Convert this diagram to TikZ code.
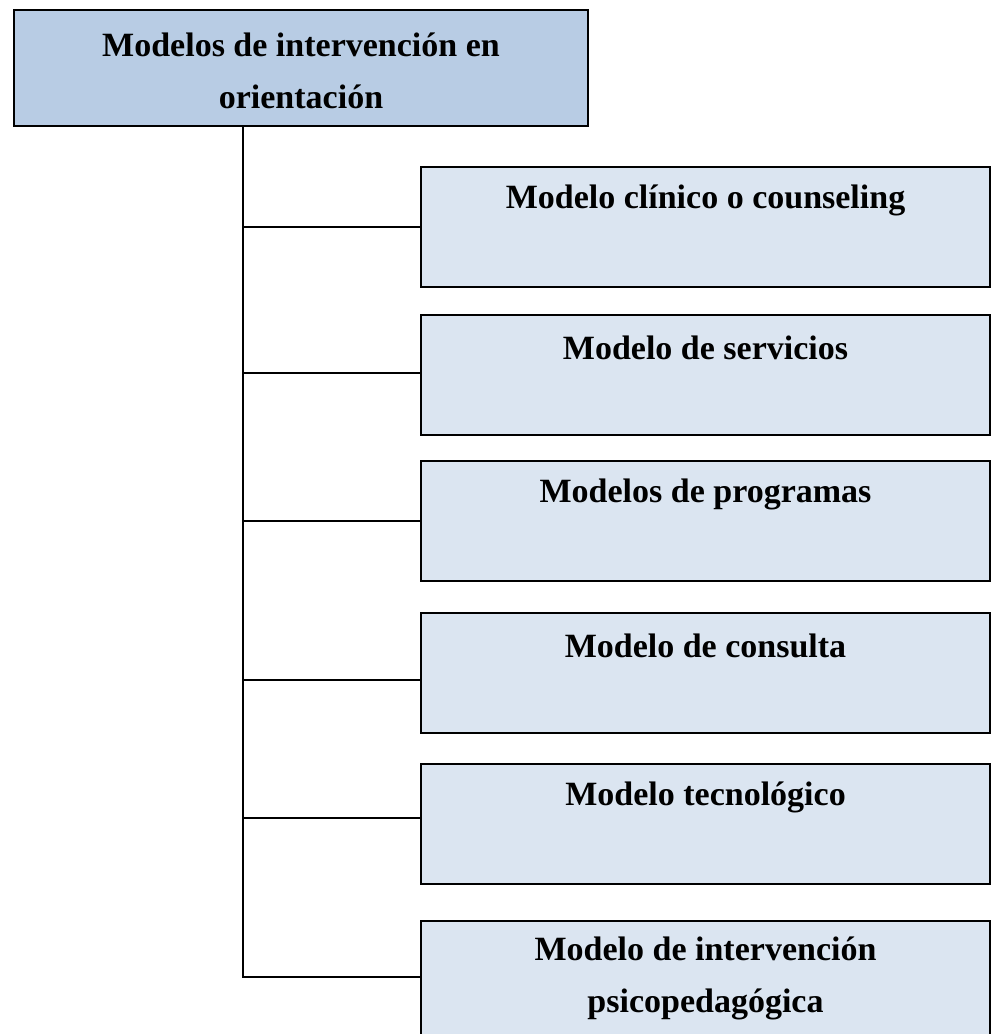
\documentclass[tikz,border=0pt]{standalone}
\usepackage{fontspec}
\setmainfont{Liberation Serif}
\definecolor{topfill}{HTML}{B8CCE4}
\definecolor{childfill}{HTML}{DBE5F1}
\begin{document}
\begin{tikzpicture}[x=1pt,y=-1pt,
  topbox/.style={draw=black, line width=2.4pt, fill=topfill, minimum width=574pt, minimum height=116pt, inner sep=0pt, outer sep=0pt},
  childbox/.style={draw=black, line width=1.8pt, fill=childfill, minimum width=569pt, minimum height=120pt, inner sep=0pt, outer sep=0pt},
  lbl/.style={font=\fontsize{34}{52}\selectfont\bfseries, align=center, inner sep=0pt, anchor=center},
  conn/.style={draw=black, line width=1.5pt}]
\useasboundingbox (0,0) rectangle (998,1034);
\node[topbox] (top) at (301,68) {};
\node[lbl] (toptxt) at (301,71) {Modelos de intervención en\\orientación};
\node[childbox] (c1) at (705.5,227) {};
\node[childbox] (c2) at (705.5,375) {};
\node[childbox] (c3) at (705.5,521) {};
\node[childbox] (c4) at (705.5,673) {};
\node[childbox] (c5) at (705.5,824) {};
\node[childbox] (c6) at (705.5,981) {};
\node[lbl] (l1) at ([yshift=-33pt]c1.north) {Modelo clínico o counseling};
\node[lbl] (l2) at ([yshift=-33pt]c2.north) {Modelo de servicios};
\node[lbl] (l3) at ([yshift=-33pt]c3.north) {Modelos de programas};
\node[lbl] (l4) at ([yshift=-33pt]c4.north) {Modelo de consulta};
\node[lbl] (l5) at ([yshift=-33pt]c5.north) {Modelo tecnológico};
\node[lbl, anchor=north] (l6) at ([yshift=-16pt]c6.north) {Modelo de intervención\\psicopedagógica};
\coordinate (t) at (243,126);
\coordinate (b6) at ([yshift=4pt]c6.west);
\draw[conn] (t) |- (b6);
\foreach \i/\s in {1/0,2/2,3/0,4/-7,5/6} {
  \coordinate (b\i) at ([yshift=\s pt]c\i.west);
  \draw[conn] (t |- b\i) -- (b\i);
}
\end{tikzpicture}
\end{document}
